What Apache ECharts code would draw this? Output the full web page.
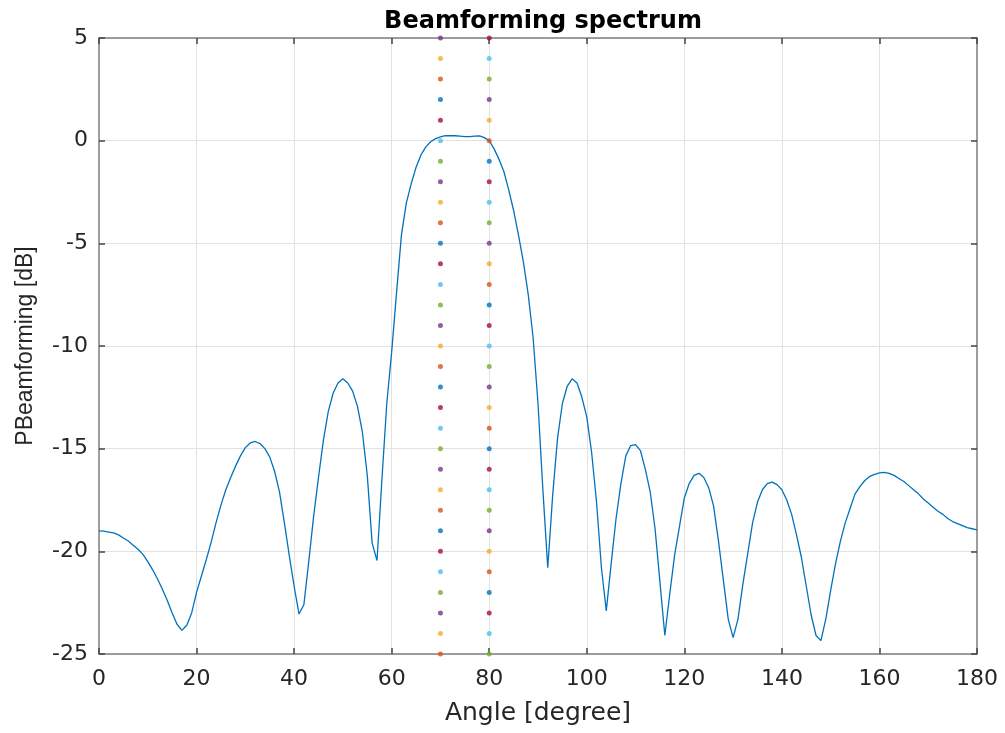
<!DOCTYPE html>
<html>
<head>
<meta charset="utf-8">
<script src="https://cdn.jsdelivr.net/npm/echarts@6/dist/echarts.min.js"></script>
<style>
html,body{margin:0;padding:0;background:#fff;}
#chart{width:1005px;height:733px;}
</style>
</head>
<body>
<div id="chart"></div>
<script>
// Angle axis samples (degrees)
var angles = [0,1,2,3,4,5,6,7,8,9,10,11,12,13,14,15,16,17,18,19,20,21,22,23,24,25,26,27,28,29,30,31,32,33,34,35,36,37,38,39,40,41,42,43,44,45,46,47,48,49,50,51,52,53,54,55,56,57,58,59,60,61,62,63,64,65,66,67,68,69,70,71,72,73,74,75,76,77,78,79,80,81,82,83,84,85,86,87,88,89,90,91,92,93,94,95,96,97,98,99,100,101,102,103,104,105,106,107,108,109,110,111,112,113,114,115,116,117,118,119,120,121,122,123,124,125,126,127,128,129,130,131,132,133,134,135,136,137,138,139,140,141,142,143,144,145,146,147,148,149,150,151,152,153,154,155,156,157,158,159,160,161,162,163,164,165,166,167,168,169,170,171,172,173,174,175,176,177,178,179,180];
// Beamforming spectrum (dB)
var spectrum = [
-19.0,-19.02,-19.06,-19.1,-19.2,-19.35,-19.5,-19.7,-19.9,-20.15,
-20.5,-20.9,-21.35,-21.85,-22.4,-23.0,-23.55,-23.85,-23.6,-23.0,
-22.0,-21.2,-20.4,-19.55,-18.6,-17.75,-17.0,-16.4,-15.85,-15.35,
-14.95,-14.72,-14.65,-14.75,-15.0,-15.4,-16.1,-17.1,-18.6,-20.2,
-21.7,-23.05,-22.6,-20.5,-18.3,-16.4,-14.6,-13.2,-12.3,-11.8,
-11.6,-11.8,-12.2,-12.95,-14.2,-16.3,-19.6,-20.45,-16.5,-12.8,
-10.3,-7.4,-4.6,-3.04,-2.1,-1.3,-0.7,-0.3,-0.05,0.1,
0.18,0.24,0.25,0.24,0.22,0.2,0.2,0.22,0.23,0.15,
0.0,-0.4,-0.9,-1.5,-2.4,-3.4,-4.6,-5.9,-7.5,-9.6,
-12.8,-17.0,-20.8,-17.3,-14.5,-12.8,-11.95,-11.6,-11.8,-12.5,
-13.45,-15.2,-17.6,-20.8,-22.9,-20.6,-18.4,-16.7,-15.35,-14.85,
-14.8,-15.1,-16.0,-17.1,-18.9,-21.5,-24.1,-22.1,-20.2,-18.8,
-17.4,-16.7,-16.3,-16.2,-16.4,-16.9,-17.8,-19.5,-21.4,-23.3,
-24.2,-23.3,-21.6,-20.1,-18.6,-17.6,-17.0,-16.7,-16.63,-16.75,
-17.0,-17.5,-18.2,-19.2,-20.3,-21.7,-23.1,-24.1,-24.35,-23.3,
-21.9,-20.6,-19.5,-18.6,-17.9,-17.2,-16.85,-16.55,-16.35,-16.25,
-16.18,-16.15,-16.2,-16.3,-16.45,-16.6,-16.8,-17.0,-17.2,-17.45,
-17.65,-17.85,-18.05,-18.2,-18.4,-18.55,-18.65,-18.75,-18.85,-18.9,
-18.95];
// Marker lines at the two source angles
var markerAngles = [70, 80];
var markerLevels = [-25,-24,-23,-22,-21,-20,-19,-18,-17,-16,-15,-14,-13,-12,-11,-10,-9,-8,-7,-6,-5,-4,-3,-2,-1,0,1,2,3,4,5];
var xTicks = [0,20,40,60,80,100,120,140,160,180];
var yTicks = [-25,-20,-15,-10,-5,0,5];

var palette = ['#0072BD','#D95319','#EDB120','#7E2F8E','#77AC30','#4DBEEE','#A2142F'];
var colorOffsets = [1, 4];

var lineData = angles.map(function(a,i){return [a, spectrum[i]];});

var textColor = '#262626';
var axisColor = '#808080';

var series = [{
  type:'line', data: lineData, showSymbol:false, symbol:'none',
  lineStyle:{color:'#0072BD', width:1.3}, z:2, animation:false
}];
markerAngles.forEach(function(ang, j){
  series.push({
    type:'scatter', symbolSize:5, z:3, animation:false,
    data: markerLevels.map(function(v){return [ang, v];}),
    itemStyle:{color:function(p){return palette[(p.dataIndex + colorOffsets[j]) % 7];}}
  });
});

var chart = echarts.init(document.getElementById('chart'));
chart.setOption({
  backgroundColor:'#fff',
  animation:false,
  title:{
    text:'Beamforming spectrum', left:538, top:5, textAlign:'center',
    textStyle:{fontFamily:'DejaVu Sans', fontWeight:'bold', fontSize:24, color:'#000'}
  },
  grid:{left:99, right:28, top:38, bottom:79, containLabel:false},
  xAxis:[{
    type:'value', min:0, max:180, interval:20, position:'bottom',
    name:'Angle [degree]', nameLocation:'middle', nameGap:47,
    nameTextStyle:{fontFamily:'DejaVu Sans', fontSize:25, color:textColor},
    axisLine:{show:true, onZero:false, lineStyle:{color:axisColor, width:1.5}},
    axisTick:{show:true, inside:true, length:6, lineStyle:{color:'#444', width:1.5}},
    axisLabel:{fontFamily:'DejaVu Sans', fontSize:22, color:textColor, margin:14,
      formatter:function(v){return xTicks.indexOf(v)>=0 ? String(v) : '';}},
    splitLine:{show:true, lineStyle:{color:'#e2e2e2', width:1}}
  },{
    type:'value', min:0, max:180, interval:20, position:'top',
    axisLine:{show:true, onZero:false, lineStyle:{color:axisColor, width:1.5}},
    axisTick:{show:true, inside:true, length:6, lineStyle:{color:'#444', width:1.5}},
    axisLabel:{show:false}, splitLine:{show:false}
  }],
  yAxis:[{
    type:'value', min:-25, max:5, interval:5, position:'left',
    name:'PBeamforming [dB]', nameLocation:'middle', nameGap:62,
    nameTextStyle:{fontFamily:'Liberation Sans', fontSize:23, color:textColor},
    axisLine:{show:true, onZero:false, lineStyle:{color:axisColor, width:1.5}},
    axisTick:{show:true, inside:true, length:6, lineStyle:{color:'#444', width:1.5}},
    axisLabel:{fontFamily:'DejaVu Sans', fontSize:22, color:textColor, margin:11,
      formatter:function(v){return yTicks.indexOf(v)>=0 ? String(v) : '';}},
    splitLine:{show:true, lineStyle:{color:'#e2e2e2', width:1}}
  },{
    type:'value', min:-25, max:5, interval:5, position:'right',
    axisLine:{show:true, onZero:false, lineStyle:{color:axisColor, width:1.5}},
    axisTick:{show:true, inside:true, length:6, lineStyle:{color:'#444', width:1.5}},
    axisLabel:{show:false}, splitLine:{show:false}
  }],
  series: series
});
</script>
</body>
</html>
